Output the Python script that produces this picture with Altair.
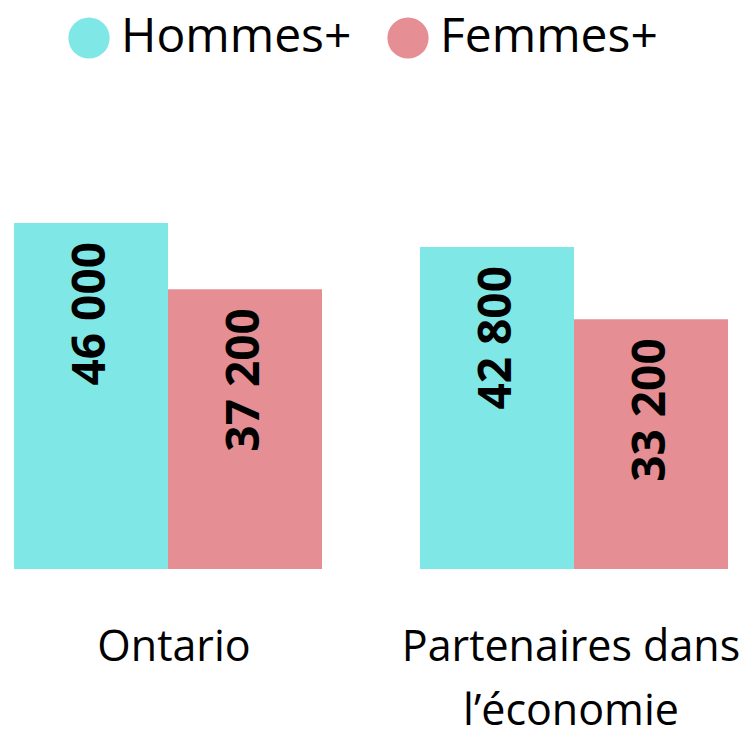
import altair as alt
import pandas as pd

groups = ["Ontario", "Partenaires dans\nl’économie"]
sexes = ["Hommes+", "Femmes+"]
hommes = [46000, 42800]
femmes = [37200, 33200]
labels_h = ["46 000", "42 800"]
labels_f = ["37 200", "33 200"]
colors = ["#7FE7E5", "#E58E93"]

rows = []
for i, g in enumerate(groups):
    rows.append({"group": g, "sex": sexes[0], "value": hommes[i], "label": labels_h[i]})
    rows.append({"group": g, "sex": sexes[1], "value": femmes[i], "label": labels_f[i]})
df = pd.DataFrame(rows)

FONT = "Open Sans"

x = alt.X(
    "group:N",
    sort=groups,
    scale=alt.Scale(paddingInner=0.2414, paddingOuter=0.0148),
    axis=alt.Axis(
        title=None,
        domain=False,
        ticks=False,
        labelAngle=0,
        labelFont=FONT,
        labelFontSize=43,
        labelColor="black",
        labelPadding=57,
        labelOffset={"condition": {"test": "datum.value == 'Ontario'", "value": 6}, "value": -3},
        labelLimit=0,
        labelLineHeight=64,
        labelExpr="split(datum.label, '\\n')",
    ),
)
xo = alt.XOffset("sex:N", sort=sexes, scale=alt.Scale(paddingInner=0, paddingOuter=0))
y = alt.Y("value:Q", scale=alt.Scale(domain=[0, 74580]), axis=None)

base = alt.Chart(df)

bars = base.mark_bar().encode(
    x=x,
    xOffset=xo,
    y=y,
    color=alt.Color(
        "sex:N",
        sort=sexes,
        scale=alt.Scale(domain=sexes, range=colors),
        legend=alt.Legend(
            title=None,
            orient="none",
            legendX=57,
            legendY=6,
            direction="horizontal",
            symbolType="circle",
            symbolSize=1700,
            symbolStrokeWidth=0,
            symbolOpacity=1,
            labelFont=FONT,
            labelFontSize=48,
            labelColor="black",
            labelOffset=8,
            labelLimit=0,
            columnPadding=32,
            padding=0,
        ),
    ),
)

text = base.mark_text(
    angle=270,
    align="right",
    baseline="middle",
    dx=-19,
    font=FONT,
    fontWeight="bold",
    fontSize=46,
    color="black",
).encode(x=x, xOffset=xo, y=y, text="label:N")

chart = (
    (bars + text)
    .properties(
        width=726,
        height=561,
        autosize=alt.AutoSizeParams(type="none"),
        padding={"left": 0, "top": 0, "right": 5, "bottom": 159},
    )
    .configure_view(stroke=None)
)

chart.save("out.html", embed_options={"renderer": "svg", "actions": False})
